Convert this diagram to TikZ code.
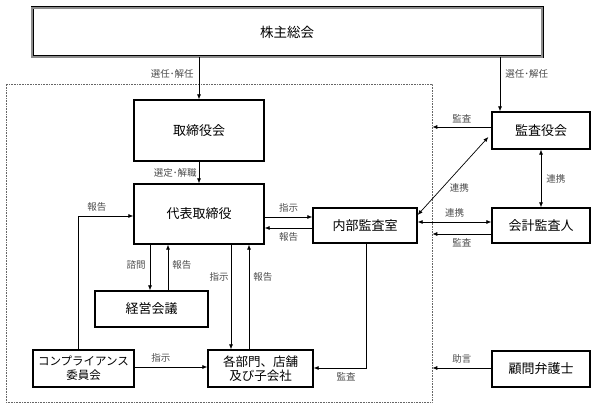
\documentclass[tikz,border=0pt]{standalone}
\usepackage{fontspec}
\setmainfont{Noto Sans CJK JP}
\usetikzlibrary{arrows.meta}
\begin{document}
\begin{tikzpicture}[x=1pt,y=-1pt,
  box/.style={draw, line width=1.3pt, inner sep=0pt, align=center, font=\fontsize{13}{16}\selectfont},
  lbl/.style={text=black!70, font=\fontsize{9.5}{11}\selectfont, inner sep=1pt},
  frame/.style={draw=black!60, densely dotted, line width=0.6pt, inner sep=0pt},
  arr/.style={-{Latex[length=5pt,width=4pt]}, line width=0.7pt},
  both/.style={{Latex[length=5pt,width=4pt]}-{Latex[length=5pt,width=4pt]}, line width=0.7pt}]
\useasboundingbox (0,0) rectangle (597,411);
\node[frame, minimum width=426pt, minimum height=318pt] (group) at (219,243){};
\node[box, line width=0.9pt, double=black!45, double distance=1.2pt, minimum width=510pt, minimum height=49pt, font=\fontsize{13.5}{16}\selectfont] (kabunushi) at (287,32.5){株主総会};
\node[box, minimum width=130pt, minimum height=61pt] (torishimari) at (199,130.5){取締役会};
\node[box, minimum width=130pt, minimum height=60pt] (daihyo) at (199,214){代表取締役};
\node[box, minimum width=113pt, minimum height=36pt] (keiei) at (151.5,309){経営会議};
\node[box, minimum width=101pt, minimum height=37pt, font=\fontsize{11.5}{14}\selectfont] (compliance) at (83.5,368.5){コンプライアンス\\委員会};
\node[box, minimum width=105pt, minimum height=37pt, font=\fontsize{12.5}{14.5}\selectfont] (kakubu) at (260.5,368.5){各部門、店舗\\及び子会社};
\node[box, minimum width=104pt, minimum height=35pt] (naibu) at (365,225.5){内部監査室};
\node[box, minimum width=98pt, minimum height=37pt] (kansayaku) at (541,130.5){監査役会};
\node[box, minimum width=98pt, minimum height=35pt] (kaikei) at (541,225.5){会計監査人};
\node[box, minimum width=98pt, minimum height=36pt] (komon) at (541,369){顧問弁護士};
\draw[arr] (kabunushi.south -| torishimari.north) -- node[lbl, left=4pt, pos=0.4]{選任･解任} (torishimari.north);
\draw[arr] ([xshift=-41pt]kansayaku.north |- kabunushi.south) -- node[lbl, right=4pt, pos=0.3]{選任･解任} ([xshift=-41pt]kansayaku.north);
\draw[arr] (torishimari.south) -- node[lbl, left=1pt]{選定･解職} (daihyo.north);
\draw[arr] ([xshift=-5.5pt]compliance.north) |- node[lbl, above=3pt, pos=0.67]{報告} ([yshift=-2pt]daihyo.west);
\draw[arr] ([yshift=-3pt]daihyo.east) -- node[lbl, above=3pt]{指示} ([yshift=-3pt]daihyo.east -| naibu.west);
\draw[arr] ([yshift=-14pt]daihyo.east -| naibu.west) -- node[lbl, below=3pt]{報告} ([yshift=-14pt]daihyo.east);
\draw[both] ([yshift=10.5pt]naibu.east) -- node[lbl, right=6pt, pos=0.35]{連携} ([shift={(-3pt,-6.5pt)}]kansayaku.west);
\draw[both] (kansayaku.south) -- node[lbl, right=4pt]{連携} (kaikei.north);
\draw[both] ([yshift=3.5pt]naibu.east) -- node[lbl, above=3pt]{連携} ([yshift=3.5pt]naibu.east -| kaikei.west);
\draw[arr] ([yshift=3.5pt]kansayaku.west) -- node[lbl, above=3pt]{監査} ([yshift=3.5pt]kansayaku.west -| group.east);
\draw[arr] ([yshift=-8.5pt]kaikei.west) -- node[lbl, below=3pt]{監査} ([yshift=-8.5pt]kaikei.west -| group.east);
\draw[arr] ([yshift=1pt]komon.west) -- node[lbl, above=3pt]{助言} ([yshift=1pt]komon.west -| group.east);
\draw[arr] ([xshift=-1.5pt]keiei.north |- daihyo.south) -- node[lbl, left=3pt, pos=0.45]{諮問} ([xshift=-1.5pt]keiei.north);
\draw[arr] ([xshift=16.5pt]keiei.north) -- node[lbl, right=3pt, pos=0.55]{報告} ([xshift=16.5pt]keiei.north |- daihyo.south);
\draw[arr] ([xshift=-29.5pt]kakubu.north |- daihyo.south) -- node[lbl, left=1pt, pos=0.31]{指示} ([xshift=-29.5pt]kakubu.north);
\draw[arr] ([xshift=-11.5pt]kakubu.north) -- node[lbl, right=3pt, pos=0.69]{報告} ([xshift=-11.5pt]kakubu.north |- daihyo.south);
\draw[arr] ([yshift=1.5pt]compliance.east) -- node[lbl, above=3pt, pos=0.36]{指示} ([yshift=1.5pt]compliance.east -| kakubu.west);
\draw[arr] ([xshift=1pt]naibu.south) |- node[lbl, below=3pt, pos=0.69]{監査} ([yshift=0.5pt]kakubu.east);
\end{tikzpicture}
\end{document}
